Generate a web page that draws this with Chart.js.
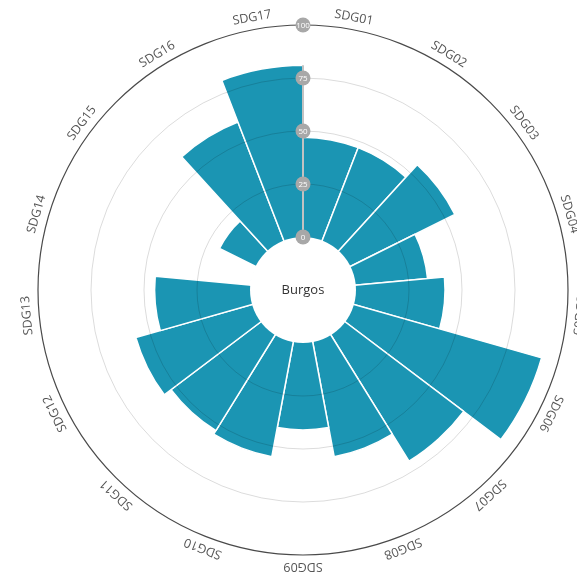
<!DOCTYPE html>
<html><head><meta charset="utf-8">
<script src="https://cdn.jsdelivr.net/npm/chart.js@4"></script>
<style>html,body{margin:0;padding:0;background:#fff;overflow:hidden;}</style>
</head><body>
<canvas id="c" width="577" height="573"></canvas>
<script>
const categories = ['SDG01','SDG02','SDG03','SDG04','SDG05','SDG06','SDG07','SDG08','SDG09','SDG10','SDG11','SDG12','SDG13','SDG14','SDG15','SDG16','SDG17'];
const values = [47, 47, 55, 34, 42, 92, 70, 55, 41, 55, 53, 57, 45, 0, 19, 60, 81];
const tickValues = [0, 25, 50, 75, 100];
const centerLabel = 'Burgos';

const decor = {
  id: 'decor',
  afterDatasetsDraw(chart) {
    const s = chart.scales.r, ctx = chart.ctx;
    ctx.save();
    ctx.beginPath();
    ctx.arc(s.xCenter, s.yCenter, s.getDistanceFromCenterForValue(0), 0, 2 * Math.PI);
    ctx.fillStyle = '#ffffff';
    ctx.fill();
    ctx.restore();
  },
  afterDraw(chart) {
    const s = chart.scales.r, ctx = chart.ctx, cx = s.xCenter, cy = s.yCenter;
    const r0 = s.getDistanceFromCenterForValue(0);
    const rTop = s.getDistanceFromCenterForValue(Math.max(values[0], values[values.length - 1]));
    ctx.save();
    ctx.strokeStyle = '#c2c2c2';
    ctx.lineWidth = 2;
    ctx.beginPath();
    ctx.moveTo(cx, cy - r0);
    ctx.lineTo(cx, cy - rTop);
    ctx.stroke();
    ctx.textAlign = 'center';
    ctx.textBaseline = 'middle';
    tickValues.forEach(v => {
      const r = s.getDistanceFromCenterForValue(v);
      ctx.beginPath();
      ctx.arc(cx, cy - r, 7.5, 0, 2 * Math.PI);
      ctx.fillStyle = '#a8a8a8';
      ctx.fill();
      ctx.fillStyle = '#ffffff';
      ctx.font = '8px "Open Sans"';
      ctx.fillText(String(v), cx, cy - r + 0.5);
    });
    const n = categories.length, step = 2 * Math.PI / n, rl = s.drawingArea + 12;
    ctx.font = '12.5px "Open Sans"';
    ctx.fillStyle = '#555555';
    categories.forEach((lab, i) => {
      const a = (i + 0.5) * step;
      ctx.save();
      ctx.translate(cx + rl * Math.sin(a), cy - rl * Math.cos(a));
      ctx.rotate(a);
      ctx.fillText(lab, 0, 0);
      ctx.restore();
    });
    ctx.font = '13px "Open Sans"';
    ctx.fillStyle = '#333333';
    ctx.fillText(centerLabel, cx, cy);
    ctx.restore();
  }
};

new Chart(document.getElementById('c'), {
  type: 'polarArea',
  data: {
    labels: categories,
    datasets: [{
      data: values,
      backgroundColor: '#1b95b3',
      borderColor: '#ffffff',
      borderWidth: 1.5
    }]
  },
  options: {
    responsive: false,
    animation: false,
    layout: { padding: { left: 38, right: 9, top: 25, bottom: 18 } },
    plugins: { legend: { display: false }, tooltip: { enabled: false } },
    scales: {
      r: {
        min: -25,
        max: 100,
        startAngle: 0,
        ticks: { display: false, stepSize: 25 },
        angleLines: { display: false },
        pointLabels: { display: false },
        grid: {
          circular: true,
          z: 1,
          color: ctx => ctx.tick && ctx.tick.value === 100 ? '#4a4a4a' : (ctx.tick && ctx.tick.value <= 0 ? 'rgba(0,0,0,0)' : 'rgba(0,0,0,0.18)'),
          lineWidth: ctx => ctx.tick && ctx.tick.value === 100 ? 1.2 : 0.8
        }
      }
    }
  },
  plugins: [decor]
});
</script>
</body></html>
